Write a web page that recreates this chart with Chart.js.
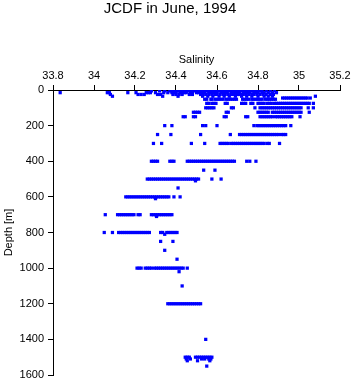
<!DOCTYPE html>
<html>
<head>
<meta charset="utf-8">
<script src="https://cdn.jsdelivr.net/npm/chart.js@4"></script>
<style>
    body { margin: 0; background: #fff; }
</style>
</head>
<body>
<canvas id="chartJcdf" width="353" height="384"></canvas>
<script>
// profundidades (m) de cada linha de amostras
const depths = [5, 15, 25, 35, 45, 52, 75, 100, 125, 150, 200, 250, 300, 400, 450, 500, 510, 550, 600, 610,
    700, 710, 800, 810, 850, 900, 950, 1000, 1020, 1100, 1200, 1400, 1500, 1510, 1520, 1550];

// salinidade lida em cada profundidade
const salinity = [
    [34.28, 34.32, 34.345, 34.37, 34.38, 34.39, 34.40, 34.41, 34.42, 34.43, 34.44, 34.45, 34.46, 34.47, 34.48, 34.49, 34.50, 34.51,
     34.52, 34.53, 34.54, 34.55, 34.56, 34.57, 34.58, 34.59, 34.60, 34.61, 34.62, 34.63, 34.64, 34.65, 34.66, 34.67, 34.68, 34.69,
     34.70, 34.71, 34.72, 34.73, 34.74, 34.75, 34.76, 34.77, 34.78, 34.79, 34.80, 34.81, 34.82, 34.84, 34.86, 34.88],
    [33.835, 34.065, 34.075, 34.165, 34.205, 34.255, 34.265, 34.275, 34.30, 34.34, 34.36, 34.38, 34.39, 34.40, 34.42, 34.43, 34.44,
     34.45, 34.47, 34.48, 34.50, 34.51, 34.52, 34.53, 34.54, 34.56, 34.57, 34.58, 34.59, 34.60, 34.62, 34.63, 34.64, 34.65, 34.67,
     34.68, 34.69, 34.70, 34.71, 34.73, 34.74, 34.75, 34.76, 34.78, 34.79, 34.80, 34.82, 34.83, 34.85, 34.87, 34.89],
    [34.08, 34.215, 34.23, 34.245, 34.31, 34.325, 34.385, 34.40, 34.415, 34.43, 34.465, 34.48, 34.52, 34.53, 34.545, 34.56, 34.575,
     34.59, 34.60, 34.615, 34.63, 34.64, 34.655, 34.67, 34.685, 34.70, 34.71, 34.725, 34.74, 34.755, 34.77, 34.78, 34.795, 34.81,
     34.825, 34.84, 34.86, 34.875],
    [34.09, 34.335, 34.41, 34.53, 34.555, 34.58, 34.61, 34.635, 34.66, 34.69, 34.72, 34.745, 34.77, 34.80, 34.83, 34.85, 34.87, 35.08],
    [34.92, 34.93, 34.94, 34.95, 34.96, 34.97, 34.98, 34.99, 35.00, 35.01, 35.02, 35.03, 35.04, 35.055],
    [34.54, 34.55, 34.57, 34.575, 34.59, 34.60, 34.61, 34.62, 34.63, 34.645, 34.655, 34.665, 34.675, 34.685, 34.695, 34.725, 34.735,
     34.745, 34.755, 34.77, 34.78, 34.79, 34.80, 34.81, 34.82, 34.835, 34.845, 34.855, 34.865, 34.875, 34.885],
    [34.55, 34.56, 34.575, 34.585, 34.595, 34.64, 34.65, 34.72, 34.73, 34.74, 34.765, 34.775, 34.80, 34.81, 34.82, 34.83, 34.845,
     34.855, 34.865, 34.88, 34.89, 34.90, 34.91, 34.92, 34.93, 34.94, 34.95, 34.96, 34.97, 34.98, 34.99, 35.00, 35.01, 35.02, 35.03,
     35.04, 35.05, 35.07],
    [34.545, 34.555, 34.565, 34.575, 34.585, 34.67, 34.68, 34.785, 34.81, 34.82, 34.83, 34.84, 34.85, 34.86, 34.87, 34.88, 34.89,
     34.90, 34.91, 34.92, 34.93, 34.94, 34.95, 34.96, 34.97, 34.98, 34.99, 35.00, 35.01, 35.045, 35.07],
    [34.485, 34.495, 34.505, 34.515, 34.645, 34.655, 34.80, 34.81, 34.82, 34.83, 34.84, 34.85, 34.87, 34.88, 34.89, 34.90, 34.91,
     34.92, 34.93, 34.94, 34.95, 34.96, 34.97, 34.98, 34.99, 35.00, 35.01, 35.05],
    [34.435, 34.445, 34.485, 34.495, 34.635, 34.645, 34.74, 34.75, 34.81, 34.82, 34.83, 34.84, 34.85, 34.86, 34.87, 34.885, 34.895,
     34.905, 34.915, 34.925, 34.935, 34.945, 34.955, 34.965, 35.005],
    [34.345, 34.38, 34.53, 34.545, 34.60, 34.78, 34.795, 34.805, 34.815, 34.825, 34.835, 34.845, 34.855, 34.865, 34.875, 34.885,
     34.895, 34.905, 34.915, 34.925, 34.935, 34.96],
    [34.31, 34.375, 34.52, 34.665, 34.71, 34.72, 34.73, 34.74, 34.75, 34.76, 34.77, 34.78, 34.79, 34.80, 34.81, 34.82, 34.83,
     34.84, 34.85, 34.86, 34.87, 34.88, 34.89, 34.90, 34.915, 34.925, 34.935],
    [34.29, 34.33, 34.475, 34.54, 34.615, 34.625, 34.635, 34.645, 34.655, 34.67, 34.68, 34.69, 34.70, 34.71, 34.72, 34.73, 34.74,
     34.75, 34.76, 34.77, 34.78, 34.79, 34.80, 34.81, 34.82, 34.83, 34.845, 34.855, 34.905],
    [34.28, 34.29, 34.30, 34.31, 34.37, 34.38, 34.39, 34.455, 34.465, 34.475, 34.485, 34.495, 34.505, 34.515, 34.525, 34.535, 34.545,
     34.555, 34.565, 34.575, 34.585, 34.595, 34.605, 34.615, 34.625, 34.635, 34.645, 34.655, 34.665, 34.675, 34.685, 34.745, 34.76,
     34.79],
    [34.535, 34.59],
    [34.26, 34.27, 34.28, 34.29, 34.30, 34.31, 34.32, 34.33, 34.34, 34.35, 34.36, 34.37, 34.38, 34.39, 34.40, 34.41, 34.42, 34.43,
     34.44, 34.45, 34.46, 34.47, 34.48, 34.49, 34.50, 34.51, 34.575, 34.62],
    [34.495],
    [34.41],
    [34.155, 34.165, 34.175, 34.185, 34.195, 34.205, 34.215, 34.225, 34.235, 34.245, 34.255, 34.265, 34.275, 34.285, 34.295, 34.305,
     34.315, 34.325, 34.335, 34.345, 34.355, 34.365, 34.39, 34.42],
    [34.30],
    [34.055, 34.115, 34.125, 34.135, 34.145, 34.155, 34.165, 34.175, 34.185, 34.195, 34.215, 34.225, 34.28, 34.29, 34.30, 34.31,
     34.32, 34.33, 34.34, 34.35, 34.36, 34.37, 34.38],
    [34.305],
    [34.05, 34.09, 34.12, 34.13, 34.14, 34.15, 34.16, 34.17, 34.18, 34.19, 34.20, 34.21, 34.22, 34.23, 34.24, 34.25, 34.26, 34.27,
     34.325, 34.335, 34.355, 34.365, 34.375, 34.385, 34.395, 34.405],
    [34.345],
    [34.325, 34.385],
    [34.345],
    [34.405],
    [34.21, 34.22, 34.23, 34.25, 34.26, 34.27, 34.28, 34.295, 34.305, 34.315, 34.325, 34.335, 34.345, 34.355, 34.365, 34.375, 34.385,
     34.395, 34.405, 34.415, 34.425, 34.435, 34.455],
    [34.415],
    [34.43],
    [34.36, 34.37, 34.38, 34.39, 34.40, 34.41, 34.42, 34.43, 34.44, 34.45, 34.46, 34.47, 34.48, 34.49, 34.50, 34.51, 34.52],
    [34.545],
    [34.445, 34.455, 34.465, 34.495, 34.505, 34.515, 34.525, 34.535, 34.545, 34.555, 34.565, 34.575],
    [34.45, 34.47, 34.525, 34.54, 34.56, 34.57],
    [34.455, 34.505, 34.565],
    [34.55]
];

const points = [];
depths.forEach((d, i) => {
    salinity[i].forEach(s => points.push({ x: s, y: d }));
});

const fonte = 'Liberation Sans, Arial, Helvetica, sans-serif';

new Chart(document.getElementById('chartJcdf'), {
    type: 'scatter',
    data: {
        datasets: [{
            data: points,
            pointStyle: 'rect',
            pointRadius: 2.3,
            pointBorderWidth: 0,
            backgroundColor: '#0000ff',
            borderColor: '#0000ff'
        }]
    },
    options: {
        responsive: false,
        animation: false,
        layout: { padding: { left: 0, right: 13, top: 0, bottom: 9 } },
        plugins: {
            legend: { display: false },
            tooltip: { enabled: false },
            title: {
                display: true,
                text: 'JCDF in June, 1994',
                color: '#000',
                font: { family: fonte, size: 15, weight: 'normal', lineHeight: 1 },
                padding: { top: 1, bottom: 0 }
            }
        },
        scales: {
            x: {
                type: 'linear',
                position: 'top',
                min: 33.8,
                max: 35.2,
                ticks: {
                    stepSize: 0.2,
                    color: '#000',
                    padding: 2,
                    maxRotation: 0,
                    font: { family: fonte, size: 11 },
                    callback: v => String(Number(v.toFixed(1)))
                },
                grid: { drawOnChartArea: false, drawTicks: true, tickLength: 5, color: '#000' },
                border: { color: '#000' },
                title: {
                    display: true,
                    text: 'Salinity',
                    color: '#000',
                    font: { family: fonte, size: 11 },
                    padding: { top: 37, bottom: 0 }
                },
                afterFit(scale) { scale.height = 74; }
            },
            y: {
                type: 'linear',
                reverse: true,
                min: 0,
                max: 1600,
                ticks: {
                    stepSize: 200,
                    color: '#000',
                    padding: 4,
                    font: { family: fonte, size: 11 },
                    callback: v => String(v)
                },
                grid: { drawOnChartArea: false, drawTicks: true, tickLength: 5, color: '#000' },
                border: { color: '#000' },
                title: {
                    display: true,
                    text: 'Depth [m]',
                    color: '#000',
                    font: { family: fonte, size: 11 },
                    padding: { top: 2, bottom: 0 }
                },
                afterFit(scale) {
                    scale.width = 53;
                    // deixa o padding do layout decidir onde o eixo termina
                    scale.paddingTop = 0;
                    scale.paddingBottom = 0;
                }
            }
        }
    }
});
</script>
</body>
</html>
